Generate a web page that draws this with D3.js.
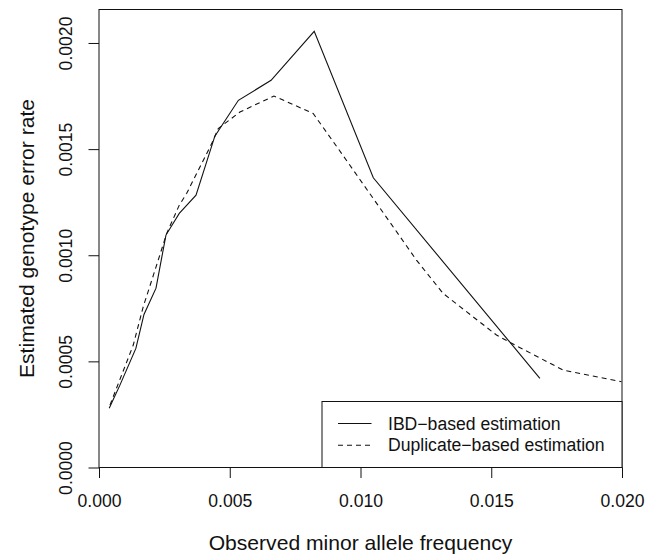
<!DOCTYPE html>
<html>
<head>
<meta charset="utf-8">
<script src="https://cdn.jsdelivr.net/npm/d3@7"></script>
<style>
	html, body { margin: 0; padding: 0; background: #fff; }
	#chart { width: 655px; height: 556px; }
	text { font-family: "Liberation Sans", Arial, Helvetica, sans-serif; font-size: 17.6px; fill: #111; }
	text.title { font-size: 21.1px; }
</style>
</head>
<body>
<div id="chart"></div>
<script>
'use strict';

// IBD-based estimate
var ibdMaf = [0.00039, 0.00080, 0.00141, 0.00172, 0.00218, 0.00256, 0.00307, 0.00371, 0.00443, 0.00533, 0.00658, 0.00823, 0.01049, 0.01686];
var ibdRate = [0.000279, 0.000388, 0.000561, 0.000721, 0.000845, 0.001095, 0.001197, 0.001283, 0.001561, 0.001730, 0.001824, 0.002055, 0.001365, 0.000420];

// duplicate-based estimate
var dupMaf = [0.00042, 0.00099, 0.00131, 0.00169, 0.00208, 0.00259, 0.00307, 0.00335, 0.00431, 0.00456, 0.00539, 0.00669, 0.00819, 0.00928, 0.01049, 0.01214, 0.01316, 0.01520, 0.01578, 0.01775, 0.01998];
var dupRate = [0.000294, 0.000475, 0.000577, 0.000757, 0.000906, 0.001103, 0.001236, 0.001291, 0.001526, 0.001597, 0.001675, 0.001750, 0.001668, 0.001479, 0.001267, 0.000977, 0.000820, 0.000624, 0.000585, 0.000459, 0.000404];

var xTicks = [0, 0.005, 0.010, 0.015, 0.020];
var yTicks = [0, 0.0005, 0.0010, 0.0015, 0.0020];
var legendLabels = ['IBD\u2212based estimation', 'Duplicate\u2212based estimation'];

var margin = {top: 9.5, right: 33, bottom: 88.5, left: 99};
var width = 655 - margin.left - margin.right;
var height = 556 - margin.top - margin.bottom;
var tick = 10.5;

var svg = d3.select('#chart').append('svg')
	.attr('width', 655)
	.attr('height', 556)
	.append('g')
		.attr('transform', 'translate(' + margin.left + ',' + margin.top + ')');

var x = d3.scaleLinear().domain([0, 0.02]).range([0, width]);
var y = d3.scaleLinear().domain([0, d3.max(ibdRate) * 1.05]).range([height, 0]);

var line = d3.line()
	.x(function(d) { return x(d[0]); })
	.y(function(d) { return y(d[1]); });

var ibd = d3.zip(ibdMaf, ibdRate);
var dup = d3.zip(dupMaf, dupRate);

// axes
var xAxis = svg.append('g')
	.attr('transform', 'translate(0,' + height + ')')
	.call(d3.axisBottom(x).tickValues(xTicks).tickSize(tick).tickFormat(d3.format('.3f')));

var yAxis = svg.append('g')
	.call(d3.axisLeft(y).tickValues(yTicks).tickSize(tick).tickFormat(d3.format('.4f')));

[xAxis, yAxis].forEach(function(a) {
	a.select('.domain').remove();
	a.selectAll('line').attr('stroke', '#111').attr('stroke-width', 1);
	a.selectAll('text').attr('fill', null);
});

xAxis.selectAll('text').attr('dy', null).attr('y', 39.2);

yAxis.selectAll('.tick text')
	.attr('x', null).attr('dy', null)
	.attr('text-anchor', 'middle')
	.attr('transform', 'translate(-27,0) rotate(-90)');

// plot frame
svg.append('rect')
	.attr('x', 0)
	.attr('y', 0)
	.attr('width', width)
	.attr('height', height)
	.attr('fill', 'none')
	.attr('stroke', '#111')
	.attr('stroke-width', 1);

// series
svg.append('path')
	.datum(ibd)
	.attr('d', line)
	.attr('fill', 'none')
	.attr('stroke', '#111')
	.attr('stroke-width', 1.1);

svg.append('path')
	.datum(dup)
	.attr('d', line)
	.attr('fill', 'none')
	.attr('stroke', '#111')
	.attr('stroke-width', 1.1)
	.attr('stroke-dasharray', '5,4');

// axis titles
svg.append('text')
	.attr('class', 'title')
	.attr('x', width / 2)
	.attr('y', height + 82.5)
	.attr('text-anchor', 'middle')
	.text('Observed minor allele frequency');

svg.append('text')
	.attr('class', 'title')
	.attr('text-anchor', 'middle')
	.attr('transform', 'translate(-65.5,' + (height / 2) + ') rotate(-90)')
	.text('Estimated genotype error rate');

// legend
var legW = 300, legH = 66;
var legend = svg.append('g')
	.attr('transform', 'translate(' + (width - legW) + ',' + (height - legH) + ')');

legend.append('rect')
	.attr('width', legW)
	.attr('height', legH)
	.attr('fill', '#fff')
	.attr('stroke', '#111')
	.attr('stroke-width', 1);

var item = legend.selectAll('g.item')
	.data(legendLabels)
	.enter().append('g')
		.attr('class', 'item')
		.attr('transform', function(d, i) { return 'translate(0,' + (22 + i * 21.7) + ')'; });

item.append('line')
	.attr('x1', 16)
	.attr('x2', 49.5)
	.attr('stroke', '#111')
	.attr('stroke-width', 1.1)
	.attr('stroke-dasharray', function(d, i) { return i ? '5,4' : null; });

item.append('text')
	.attr('x', 66)
	.attr('dy', '0.35em')
	.text(function(d) { return d; });
</script>
</body>
</html>
